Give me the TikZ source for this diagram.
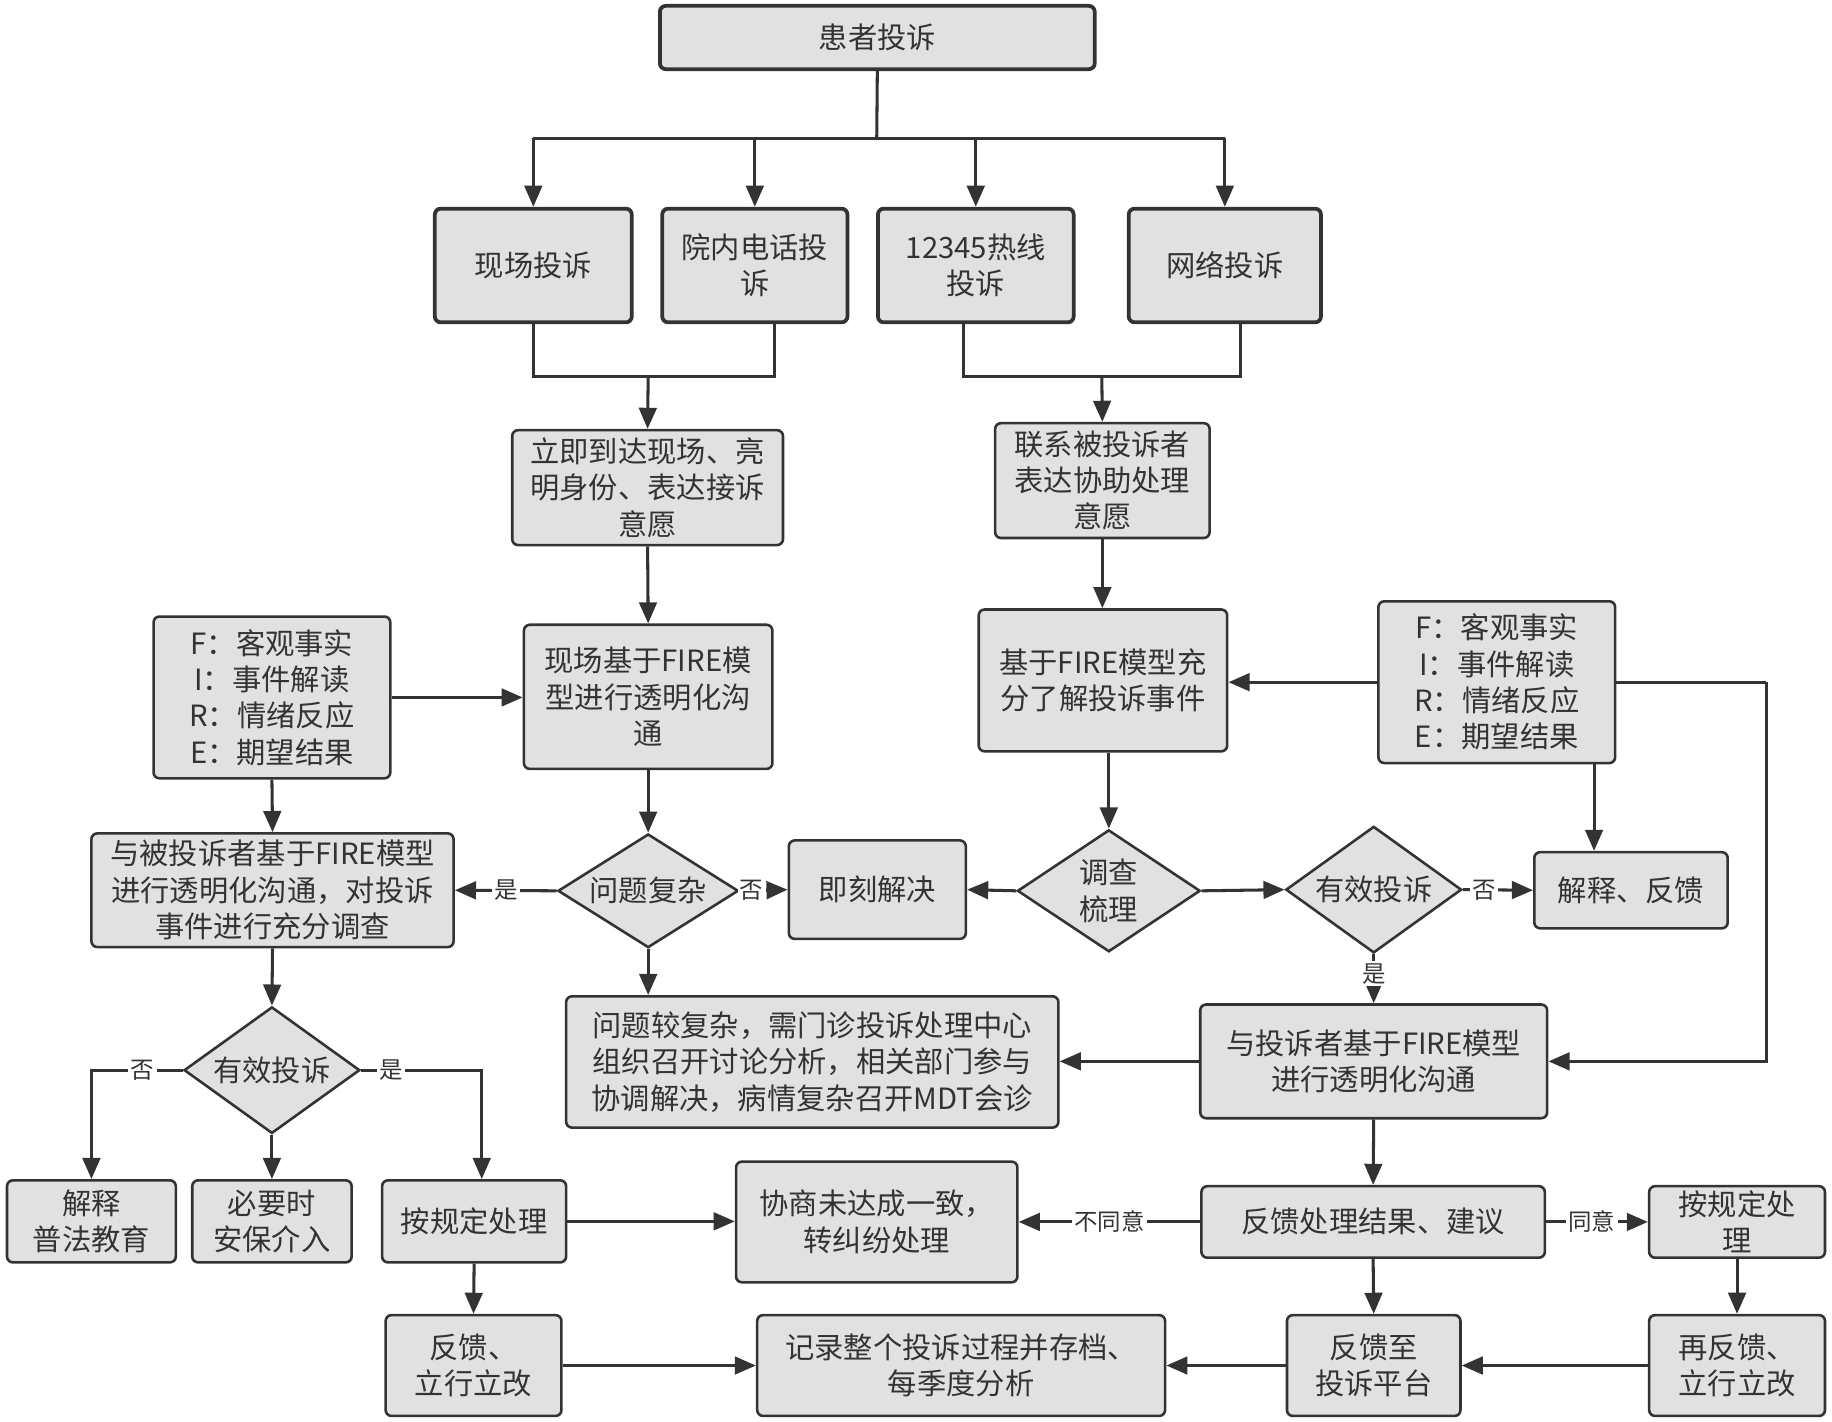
\documentclass[tikz,border=0pt]{standalone}
\usepackage{fontspec}
\setmainfont{Noto Sans CJK SC}
\usetikzlibrary{arrows.meta,shapes.geometric}
\definecolor{boxfill}{HTML}{E1E1E1}
\definecolor{edge}{HTML}{333333}
\begin{document}
\begin{tikzpicture}[x=0.5pt,y=-0.5pt,
  sz/.style 2 args={minimum width=#1*0.5pt, minimum height=#2*0.5pt},
  box/.style={draw=edge, fill=boxfill, line width=1.1pt, rounded corners=2.5pt, inner sep=0pt,
    align=center, text=edge, font=\fontsize{12.5}{15.5}\selectfont},
  tbox/.style={box, line width=1.6pt},
  dia/.style={diamond, draw=edge, fill=boxfill, line width=1.1pt, inner sep=0pt, aspect=1.5,
    align=center, text=edge, font=\fontsize{12.5}{15.5}\selectfont},
  line/.style={draw=edge, line width=1.3pt},
  arr/.style={draw=edge, line width=1.3pt, -{Triangle[length=9pt,width=7.5pt]}},
  lbl/.style={fill=white, inner sep=1pt, text=edge, font=\fontsize{10}{12}\selectfont}
]
\fill[white] (0,0) rectangle (1563,1212.4);
\useasboundingbox (0,0) rectangle (1563,1212.4);

% nodes
\node[tbox, sz={371}{54}] (top) at (748.5,32) {患者投诉};
\node[tbox, sz={168}{97}] (xc) at (455,226.5) {现场投诉};
\node[tbox, sz={158}{97}] (yn) at (644,226.5) {院内电话投\\诉};
\node[tbox, sz={167}{97}] (rx) at (832.5,226.5) {12345热线\\投诉};
\node[tbox, sz={164}{97}] (wl) at (1045,226.5) {网络投诉};
\node[box, sz={231}{98}] (lj) at (552.5,416) {立即到达现场、亮\\明身份、表达接诉\\意愿};
\node[box, sz={183}{98}] (lx) at (940.5,410) {联系被投诉者\\表达协助处理\\意愿};
\node[box, sz={212}{123}] (xcf) at (553,594.5) {现场基于FIRE模\\型进行透明化沟\\通};
\node[box, sz={202}{138}] (fl) at (232,595) {F：客观事实\\I：事件解读\\R：情绪反应\\E：期望结果};
\node[box, sz={212}{121}] (jy) at (941,580.5) {基于FIRE模型充\\分了解投诉事件};
\node[box, sz={202}{138}] (fr) at (1277,582) {F：客观事实\\I：事件解读\\R：情绪反应\\E：期望结果};
\node[box, sz={309}{97}] (bt) at (232.5,759.5) {与被投诉者基于FIRE模型\\进行透明化沟通，对投诉\\事件进行充分调查};
\node[dia, sz={154}{97}] (d1) at (553,760) {问题复杂};
\node[box, sz={151}{84}] (jk) at (748.5,759) {即刻解决};
\node[dia, sz={156}{104}] (d2) at (946,760) {调查\\梳理};
\node[dia, sz={150}{108}] (d3) at (1172,759) {有效投诉};
\node[box, sz={165}{65}] (jsfk) at (1391.5,759.5) {解释、反馈};
\node[box, sz={420}{112}] (wtj) at (693,906) {问题较复杂，需门诊投诉处理中心\\组织召开讨论分析，相关部门参与\\协调解决，病情复杂召开MDT会诊};
\node[box, sz={296}{97}] (ytsz) at (1172,905.5) {与投诉者基于FIRE模型\\进行透明化沟通};
\node[box, sz={293}{61}] (fkcl) at (1171.5,1042.5) {反馈处理结果、建议};
\node[box, sz={240}{103}] (xs) at (748,1042.5) {协商未达成一致，\\转纠纷处理};
\node[box, sz={150}{61}] (agr) at (1482,1042.5) {按规定处\\理};
\node[box, sz={150}{86}] (zfk) at (1482,1165) {再反馈、\\立行立改};
\node[box, sz={148}{86}] (fkz) at (1172,1165) {反馈至\\投诉平台};
\node[box, sz={348}{86}] (jl) at (820,1165) {记录整个投诉过程并存档、\\每季度分析};
\node[dia, sz={150}{108}] (d4) at (232,913) {有效投诉};
\node[box, sz={144}{70}] (js) at (78,1042) {解释\\普法教育};
\node[box, sz={136}{70}] (by) at (232,1042) {必要时\\安保介入};
\node[box, sz={157}{70}] (agl) at (404.5,1042) {按规定处理};
\node[box, sz={150}{86}] (fkl) at (404,1165) {反馈、\\立行立改};

% helper coordinates
\coordinate (bus) at (748,118);
\coordinate (j1a) at (455,321);
\coordinate (j1b) at (661,321);
\coordinate (m1) at (553,321);
\coordinate (j2a) at (822,321);
\coordinate (j2b) at (1058,321);
\coordinate (m2) at (940,321);
\coordinate (rr) at (1507,0);
\coordinate (rc) at (1360,0);
\coordinate (ac) at (411,0);

% top distribution
\draw[line] (top.south) -- (bus);
\draw[line] (xc.north |- bus) -- (wl.north |- bus);
\foreach \n in {xc,yn,rx,wl} \draw[arr] (\n.north |- bus) -- (\n.north);

% merges
\draw[line] (xc.south) -- (j1a) -- (j1b) -- (j1b |- yn.south);
\draw[arr] (m1) -- (lj.north);
\draw[line] (j2a |- rx.south) -- (j2a) -- (j2b) -- (j2b |- wl.south);
\draw[arr] (m2) -- (lx.north);

% left middle
\draw[arr] (lj.south) -- (xcf.north);
\draw[arr] (fl.east) -- (fl.east -| xcf.west);
\draw[arr] (fl.south) -- (bt.north);
\draw[arr] (xcf.south) -- (d1.north);
\draw[arr] (d1.west) -- node[lbl, pos=0.5] {是} (bt.east);
\draw[arr] (d1.east) -- node[lbl, pos=0.25] {否} (jk.west);
\draw[arr] (d1.south) -- (d1.south |- wtj.north);

% right middle
\draw[arr] (lx.south) -- (lx.south |- jy.north);
\draw[arr] (fr.west) -- (fr.west -| jy.east);
\draw[line] (fr.east) -- (fr.east -| rr);
\draw[arr] (fr.east -| rr) -- (rr |- ytsz.east) -- (ytsz.east);
\draw[arr] (rc |- fr.south) -- (rc |- jsfk.north);
\draw[arr] (d2.north |- jy.south) -- (d2.north);
\draw[arr] (d2.west) -- (jk.east);
\draw[arr] (d2.east) -- (d3.west);
\draw[arr] (d3.east) -- node[lbl, pos=0.3] {否} (jsfk.west);
\draw[arr] (d3.south) -- node[lbl, pos=0.4] {是} (ytsz.north);
\draw[arr] (ytsz.west) -- (ytsz.west -| wtj.east);
\draw[arr] (ytsz.south) -- (fkcl.north);
\draw[arr] (fkcl.west) -- node[lbl, pos=0.5] {不同意} (fkcl.west -| xs.east);
\draw[arr] (fkcl.east) -- node[lbl, pos=0.45] {同意} (agr.west);
\draw[arr] (agr.south) -- (zfk.north);
\draw[arr] (zfk.west) -- (fkz.east);
\draw[arr] (fkcl.south) -- (fkz.north);
\draw[arr] (fkz.west) -- (jl.east);

% left bottom
\draw[arr] (bt.south) -- (d4.north);
\draw[arr] (d4.west) -| node[lbl, pos=0.22] {否} (js.north);
\draw[arr] (d4.south) -- (by.north);
\draw[arr] (d4.east) -| node[lbl, pos=0.125] {是} (ac |- agl.north);
\draw[arr] (agl.east) -- (agl.east -| xs.west);
\draw[arr] (agl.south) -- (fkl.north);
\draw[arr] (fkl.east) -- (fkl.east -| jl.west);
\end{tikzpicture}
\end{document}
